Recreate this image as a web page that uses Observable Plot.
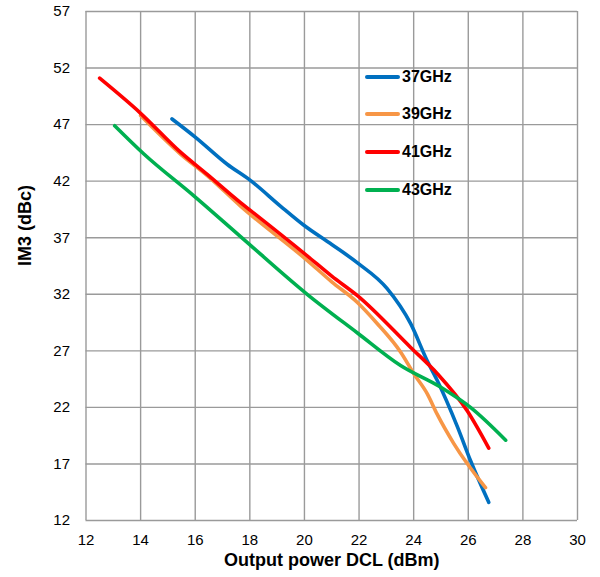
<!DOCTYPE html>
<html>
<head>
<meta charset="utf-8">
<script src="https://cdn.jsdelivr.net/npm/d3@7"></script>
<script src="https://cdn.jsdelivr.net/npm/@observablehq/plot@0.6"></script>
<style>
  html, body { margin: 0; padding: 0; background: #fff; }
  #wrap { position: relative; width: 600px; height: 577px; font-family: "Liberation Sans", Arial, sans-serif; }
  #legend { position: absolute; left: 365px; top: 58px; }
  .item { display: flex; align-items: center; height: 37.6px; }
  .swatch { width: 35px; height: 4px; border-radius: 2px; }
  .lab { font-weight: bold; font-size: 16px; color: #000; margin-left: 2px; }
</style>
</head>
<body>
<div id="wrap"></div>
<script>
// Series names and colours
const seriesNames = ["37GHz", "39GHz", "41GHz", "43GHz"];
const seriesColors = ["#0070C0", "#F79646", "#FF0000", "#00B050"];

// Output power (dBm) and IM3 (dBc) per series
const x37 = [15.15, 16.0, 17.17, 18.03, 19.12, 19.98, 21.0, 21.93, 23.03, 23.89, 24.5, 24.86, 25.6, 26.08, 26.75];
const y37 = [47.5, 45.9, 43.5, 42.05, 39.8, 38.1, 36.4, 34.8, 32.5, 29.4, 26.1, 24.4, 20.3, 17.3, 13.6];

const x39 = [14.0, 15.46, 16.44, 17.66, 20.1, 21.0, 21.93, 22.67, 23.52, 24.0, 24.5, 24.86, 25.47, 26.63];
const y39 = [47.8, 44.4, 42.5, 39.8, 35.0, 33.1, 31.3, 29.4, 26.9, 25.0, 23.2, 21.4, 18.8, 14.9];

const x41 = [12.5, 14.0, 15.46, 16.44, 17.66, 18.03, 20.1, 21.0, 21.93, 23.89, 24.86, 25.96, 26.75];
const y41 = [51.1, 48.0, 44.56, 42.6, 40.1, 39.4, 35.4, 33.6, 31.9, 27.3, 25.0, 21.7, 18.4];

const x43 = [13.05, 14.12, 15.95, 17.66, 20.1, 21.93, 23.52, 24.98, 26.08, 27.37];
const y43 = [46.9, 44.4, 40.7, 37.1, 32.0, 28.6, 25.7, 23.8, 22.0, 19.1];

// Axis ticks
const xTicks = [12, 14, 16, 18, 20, 22, 24, 26, 28, 30];
const yTicks = [12, 17, 22, 27, 32, 37, 42, 47, 52, 57];

const xs = [x37, x39, x41, x43];
const ys = [y37, y39, y41, y43];
const data = [];
seriesNames.forEach((name, i) => {
  xs[i].forEach((xv, j) => data.push({series: name, x: xv, y: ys[i][j]}));
});

const chart = Plot.plot({
  width: 600,
  height: 577,
  marginLeft: 85.5,
  marginRight: 23,
  marginTop: 11,
  marginBottom: 57,
  style: {fontFamily: "'Liberation Sans', Arial, sans-serif", fontSize: "15px", color: "#000", background: "#fff"},
  x: {domain: [12, 30], ticks: xTicks},
  y: {domain: [12, 57], ticks: yTicks},
  color: {domain: seriesNames, range: seriesColors},
  marks: [
    Plot.gridX(xTicks, {stroke: "#9a9a9a", strokeOpacity: 1, strokeWidth: 1.4}),
    Plot.gridY(yTicks, {stroke: "#9a9a9a", strokeOpacity: 1, strokeWidth: 1.4}),
    Plot.axisX(xTicks, {tickSize: 0, tickPadding: 14, fontSize: 15, label: null}),
    Plot.axisY(yTicks, {tickSize: 0, tickPadding: 16, fontSize: 15, label: null}),
    Plot.line(data, {x: "x", y: "y", z: "series", stroke: "series", strokeWidth: 3.6, strokeLinecap: "round", strokeLinejoin: "round", curve: "monotone-x"}),
    Plot.text(["Output power DCL (dBm)"], {frameAnchor: "bottom", dy: 45, fontWeight: "bold", fontSize: 18, fill: "#000"}),
    Plot.text(["IM3 (dBc)"], {frameAnchor: "left", dx: -61, rotate: -90, fontWeight: "bold", fontSize: 18, fill: "#000"})
  ]
});

const wrap = document.getElementById("wrap");
wrap.appendChild(chart);

const legend = document.createElement("div");
legend.id = "legend";
seriesNames.forEach((name, i) => {
  const item = document.createElement("div");
  item.className = "item";
  const sw = document.createElement("div");
  sw.className = "swatch";
  sw.style.background = seriesColors[i];
  const lab = document.createElement("span");
  lab.className = "lab";
  lab.textContent = name;
  item.appendChild(sw);
  item.appendChild(lab);
  legend.appendChild(item);
});
wrap.appendChild(legend);
</script>
</body>
</html>
